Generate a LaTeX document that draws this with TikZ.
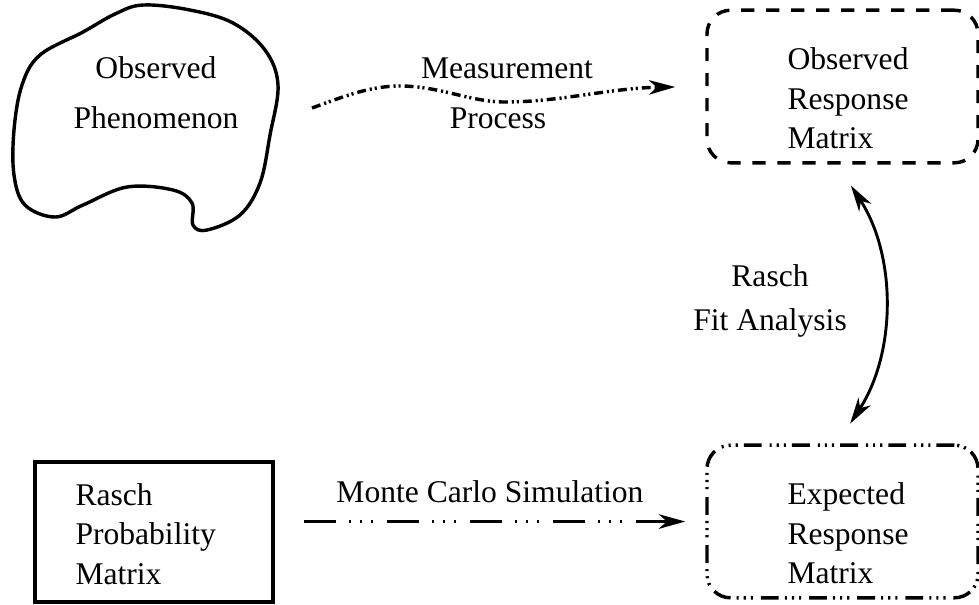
\documentclass[tikz,border=0pt]{standalone}
\usepackage{fontspec}
\setmainfont{Liberation Serif}
\usetikzlibrary{arrows.meta,positioning,calc}

\begin{document}
\begin{tikzpicture}[
  x=0.38pt, y=-0.38pt,
  >={Stealth[length=10pt,width=5.5pt,inset=3pt]},
  every node/.style={font=\fontsize{12}{15}\selectfont},
  blob/.style={line width=1.3pt, line join=round},
  obsbox/.style={draw, line width=1.3pt, rounded corners=9pt, dash pattern=on 5pt off 4.5pt, minimum width=103pt, minimum height=58pt},
  expbox/.style={obsbox, dash pattern=on 6.8pt off 2.3pt on 0.8pt off 1.9pt on 0.8pt off 1.9pt on 0.8pt off 3pt},
  probbox/.style={draw, line width=1.3pt, minimum width=90.4pt, minimum height=53.2pt},
  boxtext/.style={align=left, inner sep=0pt, anchor=west},
  measure/.style={->, line width=1.3pt, shorten >=11.4pt, dash pattern=on 3.4pt off 1.5pt on 0.8pt off 1.1pt on 0.8pt off 1.5pt},
  montecarlo/.style={->, line width=1.3pt, shorten <=11pt, shorten >=7.6pt, dash pattern=on 12.2pt off 4.9pt on 0.8pt off 3.4pt on 0.8pt off 3.4pt on 0.8pt off 5.3pt},
  fitarrow/.style={<->, line width=1.1pt, shorten <=9.5pt, shorten >=9pt}
]
\useasboundingbox (0,0) rectangle (979,604);

% Nodes
\draw[blob] plot[smooth cycle, tension=0.6] coordinates {
  (143,5) (190,10) (233,23) (265,50) (278,85) (270,135) (260,183)
  (240,215) (207,230) (193,225) (192,203) (173,190) (127,187) (83,205)
  (55,217) (25,205) (14,175) (14,130) (22,85) (40,55) (83,32) (115,14)};
\node[align=center, font=\fontsize{12}{19}\selectfont] (phenom) at (156,93) {Observed\\Phenomenon};
\coordinate (mstart) at (312,108);

\node[obsbox] (obsmat) at (842.5,86.5) {};
\node[boxtext] (obstext) at (787,98.5) {Observed\\Response\\Matrix};

\node[expbox] (expmat) at (842.5,521.5) {};
\node[boxtext] (exptext) at (787,533.5) {Expected\\Response\\Matrix};

\node[probbox] (probmat) at (154,532) {};
\node[boxtext] (probtext) at (75,534) {Rasch\\Probability\\Matrix};

\node (measlbl) at (507,68) {Measurement};
\node (proclbl) at (498,118) {Process};
\node[align=center, font=\fontsize{12}{16.5}\selectfont] (fitlbl) at (770,301) {Rasch\\Fit Analysis};

% Edges
\draw[measure] (mstart) .. controls (345,96) and (370,86) .. (400,86)
  .. controls (440,86) and (470,102) .. (505,102)
  .. controls (560,102) and (610,88) .. (obsmat.west);
\draw[montecarlo] (probmat.east |- expmat.west) -- node[above=3pt] (mclbl) {Monte Carlo Simulation} (expmat.west);
\draw[fitarrow] ([xshift=-2pt]obsmat.south) to[bend left=33] ([xshift=-2pt]expmat.north);

\end{tikzpicture}
\end{document}
